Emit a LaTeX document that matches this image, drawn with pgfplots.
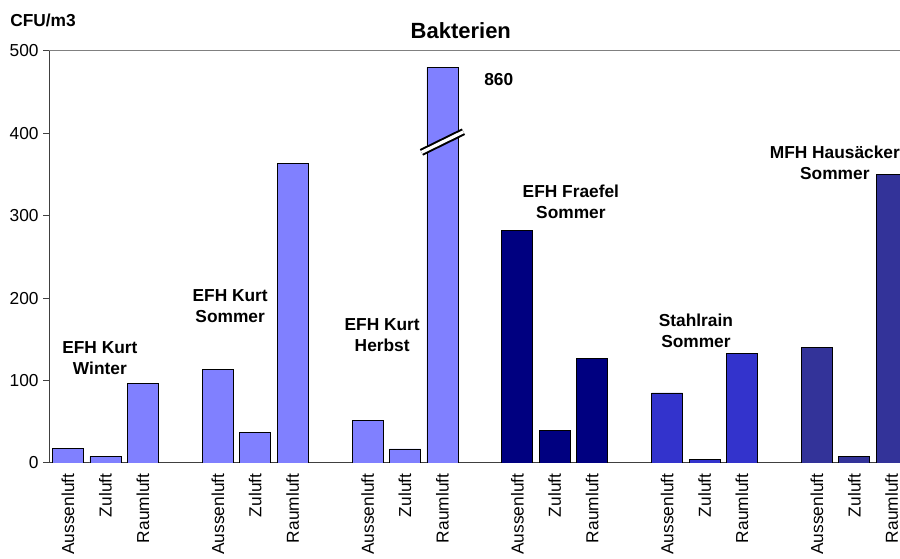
\documentclass[border=0pt]{standalone}
\usepackage{fontspec}
\setmainfont{Liberation Sans}
\usepackage{pgfplots}
\pgfplotsset{compat=1.18}

\definecolor{hell}{HTML}{8080FF}
\definecolor{marine}{HTML}{000080}
\definecolor{mittel}{HTML}{3333CC}
\definecolor{dunkel}{HTML}{333399}
\definecolor{achse}{HTML}{404040}

\begin{document}
\begin{tikzpicture}
\begin{axis}[
    scale only axis,
    width=638pt, height=309pt,
    xmin=-0.5, xmax=22.22,
    ymin=0, ymax=500,
    ytick={0,100,...,500},
    xtick={0,1,2,4,5,6,8,9,10,12,13,14,16,17,18,20,21,22},
    xticklabels={Aussenluft,Zuluft,Raumluft,Aussenluft,Zuluft,Raumluft,
                 Aussenluft,Zuluft,Raumluft,Aussenluft,Zuluft,Raumluft,
                 Aussenluft,Zuluft,Raumluft,Aussenluft,Zuluft,Raumluft},
    axis x line*=bottom,
    axis y line*=left,
    axis line style={achse, line width=0.75pt},
    tick align=outside,
    x tick style={draw=none},
    y tick style={achse, line width=0.75pt},
    major tick length=4.5pt,
    tick label style={font=\fontsize{13}{15}\selectfont},
    xticklabel style={rotate=90, anchor=east},
    /pgf/number format/assume math mode=true,
    clip mode=individual,
]
% Gruppen 1-3: EFH Kurt (Wert 860 wird bei 480 abgebrochen gezeichnet)
\addplot[ybar, bar width=0.83, bar shift=0pt, fill=hell, draw=black, line width=0.6pt]
    coordinates {(0,18) (1,8) (2,96) (4,114) (5,37) (6,364) (8,52) (9,17) (10,480)};
\addplot[ybar, bar width=0.83, bar shift=0pt, fill=marine, draw=black, line width=0.6pt]
    coordinates {(12,282) (13,39) (14,127)};
\addplot[ybar, bar width=0.83, bar shift=0pt, fill=mittel, draw=black, line width=0.6pt]
    coordinates {(16,85) (17,4) (18,133)};
\addplot[ybar, bar width=0.83, bar shift=0pt, fill=dunkel, draw=black, line width=0.6pt]
    coordinates {(20,140) (21,8) (22,350)};

\draw[gray, line width=0.75pt] (rel axis cs:0,1) -- (rel axis cs:1,1);
% Achsenbruch
\draw[black, line width=1.5pt, double=white, double distance=2.4pt]
    (axis cs:9.44,377) -- (axis cs:10.56,402);

\node[font=\bfseries\fontsize{16.5}{20}\selectfont, inner sep=0pt] at (axis cs:10.49,525) {Bakterien};
\node[font=\bfseries\fontsize{13}{15}\selectfont, anchor=west, inner sep=0pt] at (axis cs:-1.55,537) {CFU/m3};
\node[font=\bfseries\fontsize{13}{15}\selectfont, anchor=west, inner sep=0pt] at (axis cs:11.11,465) {860};

\begin{scope}[every node/.style={font=\bfseries\fontsize{13}{15.75}\selectfont, align=center, inner sep=0pt}]
\node at (axis cs:0.85,127) {EFH Kurt\\Winter};
\node at (axis cs:4.33,190) {EFH Kurt\\Sommer};
\node at (axis cs:8.39,155) {EFH Kurt\\Herbst};
\node at (axis cs:13.43,317) {EFH Fraefel\\Sommer};
\node at (axis cs:16.77,160) {Stahlrain\\Sommer};
\node at (axis cs:20.48,364) {MFH Hausäcker\\Sommer};
\end{scope}
\end{axis}
\pgfresetboundingbox
\path ([shift={(-37pt,-72pt)}]current axis.south west)
    rectangle ([shift={(0pt,38.25pt)}]current axis.north east);
\end{tikzpicture}
\end{document}
